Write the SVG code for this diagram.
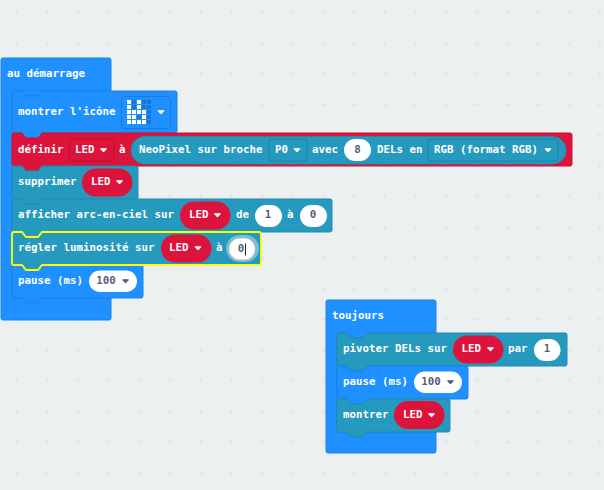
<svg xmlns="http://www.w3.org/2000/svg" xmlns:xlink="http://www.w3.org/1999/xlink" width="604" height="490" viewBox="0 0 604 490">
<style>
text{font-family:"DejaVu Sans Mono","Liberation Mono",monospace;font-size:10.8px;font-weight:700;fill:#fff}
text.d{fill:#575e75;text-anchor:middle}
.blue{fill:#1e90ff;stroke:#1b81e5;stroke-width:1}
.teal{fill:#2699bf;stroke:#2289ac;stroke-width:1}
.red{fill:#dc143c;stroke:#c61236;stroke-width:1}
.lred{fill:#dc143c}
.wh{fill:#fff}
.ddb{fill:#1e90ff;stroke:#1a7ad9}
.ddr{fill:#dc143c;stroke:#b81032}
.ddt{fill:#2699bf;stroke:#1f81a2}
.on{fill:#fff}
.off{fill:#1b75cc}
</style>
<defs>
<pattern id="grid" patternUnits="userSpaceOnUse" x="1.2" y="-2.8" width="30.7" height="30.7">
<path d="M15.3 12.8V17.8M12.8 15.3H17.8" stroke="#e0e4e6" stroke-width="1" fill="none"/>
</pattern>
<path id="arw" d="M0.8 0.8H6.2L3.5 3.6Z" stroke-width="1.2" stroke-linejoin="round"/>
</defs>
<rect width="604" height="490" fill="#ecf0f1"/>
<rect width="604" height="490" fill="url(#grid)"/>

<g id="hat-start">
<path class="blue" d="M1 60Q1 58 3 58H109Q111 58 111 60V91H42L38 96H26L22 91H14Q12 91 12 93V296Q12 298 14 298H111V318Q111 320 109 320H3Q1 320 1 318Z"/>
<text x="7" y="76.500">au démarrage</text>
</g>

<g id="block-show-icon">
<path class="blue" d="M12 93Q12 91 14 91H22L26 96H38L42 91H175Q177 91 177 93V131Q177 133 175 133H42L38 138H26L22 133H14Q12 133 12 131Z"/>
<text x="18" y="114.500">montrer l'icône</text>
<rect class="ddb" x="121.500" y="96.500" width="49" height="32" rx="3"/>
<g class="on">
<rect x="127" y="100" width="4" height="4"/><rect x="137" y="100" width="4" height="4"/>
<rect x="127" y="105" width="4" height="4"/><rect x="137" y="105" width="4" height="4"/>
<rect x="127" y="110" width="4" height="4"/><rect x="132" y="110" width="4" height="4"/><rect x="137" y="110" width="4" height="4"/><rect x="142" y="110" width="4" height="4"/>
<rect x="127" y="115" width="4" height="4"/><rect x="132" y="115" width="4" height="4"/><rect x="142" y="115" width="4" height="4"/>
<rect x="127" y="120" width="4" height="4"/><rect x="132" y="120" width="4" height="4"/><rect x="137" y="120" width="4" height="4"/><rect x="142" y="120" width="4" height="4"/>
</g>
<g class="off">
<rect x="132" y="100" width="4" height="4"/><rect x="142" y="100" width="4" height="4"/><rect x="147" y="100" width="4" height="4"/>
<rect x="132" y="105" width="4" height="4"/><rect x="142" y="105" width="4" height="4"/><rect x="147" y="105" width="4" height="4"/>
<rect x="147" y="110" width="4" height="4"/>
<rect x="137" y="115" width="4" height="4"/><rect x="147" y="115" width="4" height="4"/>
<rect x="147" y="120" width="4" height="4"/>
</g>
<use xlink:href="#arw" href="#arw" x="157.500" y="110" fill="#fff" stroke="#fff"/>
</g>

<g id="block-set-led">
<path class="red" d="M12 135Q12 133 14 133H22L26 138H38L42 133H570Q572 133 572 135V164Q572 166 570 166H42L38 171H26L22 166H14Q12 166 12 164Z"/>
<text x="18" y="152.500">définir</text>
<rect class="ddr" x="69.500" y="139" width="44.500" height="22" rx="3"/>
<text x="75" y="152.500">LED</text>
<use xlink:href="#arw" href="#arw" x="100" y="148" fill="#fff" stroke="#fff"/>
<text x="119" y="152.500">à</text>
<rect class="teal" x="131" y="136.500" width="435" height="27.500" rx="13.700"/>
<text x="139" y="152.500">NeoPixel sur broche</text>
<rect class="ddt" x="269" y="139" width="38" height="22" rx="3"/>
<text x="275" y="152.500">P0</text>
<use xlink:href="#arw" href="#arw" x="293.500" y="148" fill="#fff" stroke="#fff"/>
<text x="312" y="152.500">avec</text>
<rect class="wh" x="344" y="139" width="27" height="22" rx="11"/>
<text class="d" x="357.500" y="152.500">8</text>
<text x="377" y="152.500">DELs en</text>
<rect class="ddt" x="428" y="139" width="130" height="22" rx="3"/>
<text x="434" y="152.500">RGB (format RGB)</text>
<use xlink:href="#arw" href="#arw" x="544.500" y="148" fill="#fff" stroke="#fff"/>
</g>

<g id="block-clear">
<path class="teal" d="M12 168Q12 166 14 166H22L26 171H38L42 166H136Q138 166 138 168V197Q138 199 136 199H42L38 204H26L22 199H14Q12 199 12 197Z"/>
<text x="18" y="184.500">supprimer</text>
<rect class="lred" x="82" y="168.500" width="50.500" height="28" rx="14"/>
<text x="91" y="184.500">LED</text>
<use xlink:href="#arw" href="#arw" x="116" y="180" fill="#fff" stroke="#fff"/>
</g>

<g id="block-rainbow">
<path class="teal" d="M12 201Q12 199 14 199H22L26 204H38L42 199H330Q332 199 332 201V230Q332 232 330 232H42L38 237H26L22 232H14Q12 232 12 230Z"/>
<text x="18" y="217.500">afficher arc-en-ciel sur</text>
<rect class="lred" x="180" y="201.500" width="50.500" height="28" rx="14"/>
<text x="189" y="217.500">LED</text>
<use xlink:href="#arw" href="#arw" x="214" y="213" fill="#fff" stroke="#fff"/>
<text x="236" y="217.500">de</text>
<rect class="wh" x="255" y="205" width="27" height="22" rx="11"/>
<text class="d" x="268" y="217.500">1</text>
<text x="287" y="217.500">à</text>
<rect class="wh" x="300" y="205" width="27" height="22" rx="11"/>
<text class="d" x="313" y="217.500">0</text>
</g>

<g id="block-pause">
<path class="blue" d="M12 267Q12 265 14 265H22L26 270H38L42 265H141Q143 265 143 267V296Q143 298 141 298H42L38 303H26L22 298H14Q12 298 12 296Z"/>
<text x="18" y="283.500">pause (ms)</text>
<rect class="wh" x="89" y="270.500" width="48" height="21.500" rx="10.700"/>
<text class="d" x="106" y="283.500">100</text>
<use xlink:href="#arw" href="#arw" x="122" y="279" fill="#575e75" stroke="#575e75"/>
</g>

<g id="block-brightness">
<path fill="#2699bf" stroke="#ffff00" stroke-width="1.800" d="M12 234Q12 232 14 232H22L26 237H38L42 232H259Q261 232 261 234V263Q261 265 259 265H42L38 270H26L22 265H14Q12 265 12 263Z"/>
<text x="18" y="250.500">régler luminosité sur</text>
<rect class="lred" x="161" y="234.500" width="50.500" height="28" rx="14"/>
<text x="169" y="250.500">LED</text>
<use xlink:href="#arw" href="#arw" x="194.500" y="246" fill="#fff" stroke="#fff"/>
<text x="216" y="250.500">à</text>
<rect x="226" y="235" width="33" height="27" rx="13.500" fill="#7cbdd6"/>
<rect class="wh" x="228.800" y="238" width="26.500" height="22" rx="11" stroke="#9fb4c0" stroke-width="0.600"/>
<text class="d" x="241" y="252">0</text>
<path d="M245.500 243.500V255.500" stroke="#222" stroke-width="1"/>
</g>

<g id="hat-forever">
<path class="blue" d="M326 302Q326 300 328 300H434Q436 300 436 302V333H367L363 338H351L347 333H339Q337 333 337 335V430Q337 432 339 432H436V451Q436 453 434 453H328Q326 453 326 451Z"/>
<text x="332" y="318.500">toujours</text>
</g>

<g id="block-rotate">
<path class="teal" d="M337 335Q337 333 339 333H347L351 338H363L367 333H565Q567 333 567 335V364Q567 366 565 366H367L363 371H351L347 366H339Q337 366 337 364Z"/>
<text x="343" y="351.500">pivoter DELs sur</text>
<rect class="lred" x="453" y="335.500" width="50.500" height="28" rx="14"/>
<text x="461.500" y="351.500">LED</text>
<use xlink:href="#arw" href="#arw" x="487" y="347" fill="#fff" stroke="#fff"/>
<text x="508" y="351.500">par</text>
<rect class="wh" x="534" y="339" width="26.500" height="22" rx="11"/>
<text class="d" x="547" y="351.500">1</text>
</g>

<g id="block-pause-2">
<path class="blue" d="M337 368Q337 366 339 366H347L351 371H363L367 366H466Q468 366 468 368V397Q468 399 466 399H367L363 404H351L347 399H339Q337 399 337 397Z"/>
<text x="343" y="384.500">pause (ms)</text>
<rect class="wh" x="414" y="371.500" width="48" height="21.500" rx="10.700"/>
<text class="d" x="431" y="384.500">100</text>
<use xlink:href="#arw" href="#arw" x="447" y="380" fill="#575e75" stroke="#575e75"/>
</g>

<g id="block-show">
<path class="teal" d="M337 401Q337 399 339 399H347L351 404H363L367 399H448Q450 399 450 401V430Q450 432 448 432H367L363 437H351L347 432H339Q337 432 337 430Z"/>
<text x="343" y="417.500">montrer</text>
<rect class="lred" x="394" y="401" width="50.500" height="28" rx="14"/>
<text x="403" y="417.500">LED</text>
<use xlink:href="#arw" href="#arw" x="428" y="413" fill="#fff" stroke="#fff"/>
</g>
</svg>
